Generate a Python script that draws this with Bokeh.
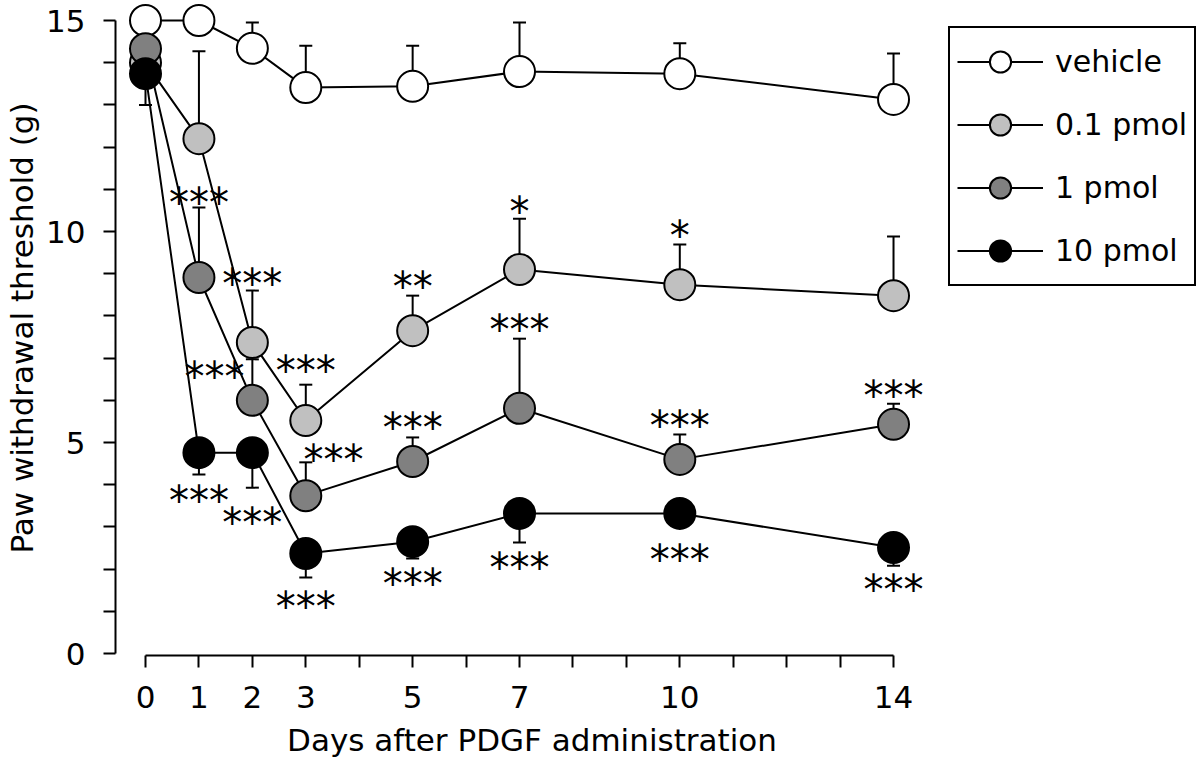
from bokeh.plotting import figure
from bokeh.models import (Range1d, FixedTicker, Whisker, ColumnDataSource, Legend,
                          LegendItem, TeeHead)
from bokeh.core.properties import value
from bokeh.embed import file_html
from bokeh.resources import INLINE

# ---------------- data ----------------
days = [0, 1, 2, 3, 5, 7, 10, 14]
series_names = ["vehicle", "0.1 pmol", "1 pmol", "10 pmol"]
vehicle = [15.0, 15.0, 14.34, 13.41, 13.44, 13.79, 13.74, 13.13]
vehicle_err = [0.0, 0.0, 0.61, 0.99, 0.96, 1.16, 0.72, 1.09]
pmol_01 = [14.0, 12.2, 7.37, 5.52, 7.65, 9.10, 8.74, 8.48]
pmol_01_err = [0.0, 2.07, 1.23, 0.85, 0.83, 1.20, 0.95, 1.40]
pmol_1 = [14.33, 8.91, 6.00, 3.74, 4.55, 5.81, 4.60, 5.43]
pmol_1_err = [0.0, 1.66, 0.97, 0.79, 0.57, 1.65, 0.59, 0.49]
pmol_10 = [13.74, 4.76, 4.76, 2.37, 2.65, 3.32, 3.32, 2.51]
pmol_10_err = [0.74, 0.52, 0.83, 0.57, 0.40, 0.69, 0.0, 0.43]

# significance marks (day, threshold level, text)
sig_x = [1, 2, 1.29, 3, 3.52, 1, 2, 3, 5, 7, 10, 7, 5, 10, 14, 5, 7, 10, 14]
sig_y = [10.85, 8.91, 6.71, 6.87, 4.74, 3.79, 3.27, 1.26, 8.84, 10.62, 10.07,
         7.82, 5.52, 5.55, 6.26, 1.82, 2.20, 2.39, 1.66]
sig_text = ["***", "***", "***", "***", "***", "***", "***", "***", "**", "*", "*",
            "***", "***", "***", "***", "***", "***", "***", "***"]

x_major_ticks = [0, 1, 2, 3, 5, 7, 10, 14]
x_minor_ticks = [4, 6, 8, 9, 11, 12, 13]
y_major_ticks = [0, 5, 10, 15]
y_minor_ticks = [1, 2, 3, 4, 6, 7, 8, 9, 11, 12, 13, 14]

x_label = "Days after PDGF administration"
y_label = "Paw withdrawal threshold (g)"

# ---------------- styles ----------------
FONT = "DejaVu Sans"
fills = ["#ffffff", "#c0c0c0", "#808080", "#000000"]
values_all = [vehicle, pmol_01, pmol_1, pmol_10]
errs_all = [vehicle_err, pmol_01_err, pmol_1_err, pmol_10_err]
err_up = [True, True, True, False]

frame_w, frame_h = 833, 655
px_per_day = 53.43
x0 = -30 / px_per_day
px_per_unit = 42.2
y0 = -2 / px_per_unit
y1 = y0 + frame_h / px_per_unit
p = figure(frame_width=frame_w, frame_height=frame_h,
           x_range=Range1d(x0, x0 + frame_w / px_per_day),
           y_range=Range1d(y0, y1),
           output_backend="svg", toolbar_location=None,
           min_border_left=115, min_border_right=0, min_border_top=0,
           min_border_bottom=100)
p.outline_line_color = None
p.grid.visible = False
p.background_fill_color = "white"
p.border_fill_color = "white"

# axes
for ax in (p.xaxis[0], p.yaxis[0]):
    ax.axis_line_width = 2
    ax.axis_line_color = "black"
    ax.major_tick_in = 0
    ax.major_tick_out = 12
    ax.minor_tick_in = 0
    ax.minor_tick_out = 12
    ax.major_tick_line_width = 2
    ax.minor_tick_line_width = 2
    ax.major_tick_line_color = "black"
    ax.minor_tick_line_color = "black"
    ax.major_label_text_font = FONT
    ax.major_label_text_font_size = "31px"
    ax.major_label_text_color = "black"
    ax.axis_label_text_font = FONT
    ax.axis_label_text_font_size = "31px"
    ax.axis_label_text_font_style = "normal"
    ax.axis_label_text_color = "black"

p.xaxis.ticker = FixedTicker(ticks=x_major_ticks, minor_ticks=x_minor_ticks)
p.xaxis.bounds = (0, 14)
p.xaxis.axis_label = x_label
p.xaxis.major_label_standoff = 18
p.xaxis.axis_label_standoff = 11

p.yaxis.ticker = FixedTicker(ticks=y_major_ticks, minor_ticks=y_minor_ticks)
p.yaxis.bounds = (0, 15)
p.yaxis.axis_label = y_label
p.yaxis.major_label_standoff = 18
p.yaxis.axis_label_standoff = 3

# lines
line_rs = []
for vals in values_all:
    line_rs.append(p.line(days, vals, line_color="black", line_width=2))

# error bars
for vals, errs, up in zip(values_all, errs_all, err_up):
    if up:
        lo = vals
        hi = [v + e for v, e in zip(vals, errs)]
    else:
        lo = [v - e for v, e in zip(vals, errs)]
        hi = vals
    src = ColumnDataSource(dict(x=days, lo=lo, hi=hi))
    head = TeeHead(size=13, line_width=2, line_color="black")
    w = Whisker(base="x", lower="lo", upper="hi", source=src, dimension="height",
                line_width=2, line_color="black",
                upper_head=head if up else None,
                lower_head=None if up else head)
    p.add_layout(w)

# markers
marker_rs = []
for vals, fc in zip(values_all, fills):
    marker_rs.append(p.scatter(days, vals, size=31, fill_color=fc,
                               line_color="black", line_width=2))

# significance marks
p.text(x=sig_x, y=sig_y, text=sig_text, text_font=value(FONT),
       text_font_size="40px", text_align="center", text_baseline="middle",
       text_color="black", y_offset=7)

legend = Legend(items=[LegendItem(label=n, renderers=[lr, mr])
                       for n, lr, mr in zip(series_names, line_rs, marker_rs)],
                location=(0, 369), glyph_width=86, glyph_height=53,
                label_height=53, spacing=10, padding=7, label_standoff=12,
                label_width=132, label_text_font=FONT, label_text_color="black",
                label_text_font_size="30px", border_line_color="black",
                border_line_alpha=1.0, border_line_width=2,
                background_fill_alpha=1, margin=0)
p.add_layout(legend, "right")

open("out.html", "w").write(file_html(p, INLINE))
